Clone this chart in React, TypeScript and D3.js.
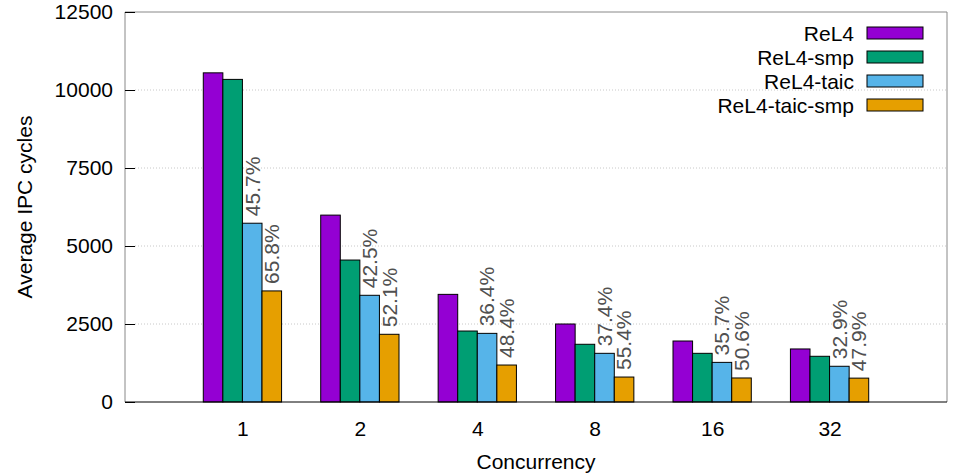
import { useRef, useEffect } from 'react';
import * as d3 from 'd3';

const categories = ['1', '2', '4', '8', '16', '32'];
const seriesNames = ['ReL4', 'ReL4-smp', 'ReL4-taic', 'ReL4-taic-smp'];
const rel4 = [10550, 5990, 3450, 2500, 1955, 1700];
const rel4Smp = [10340, 4550, 2275, 1850, 1560, 1465];
const rel4Taic = [5730, 3420, 2200, 1560, 1270, 1145];
const rel4TaicSmp = [3560, 2170, 1185, 800, 770, 765];
const taicLabels = ['45.7%', '42.5%', '36.4%', '37.4%', '35.7%', '32.9%'];
const taicSmpLabels = ['65.8%', '52.1%', '48.4%', '55.4%', '50.6%', '47.9%'];
const yTicks = [0, 2500, 5000, 7500, 10000, 12500];
const colors = ['#9400d3', '#009e73', '#56b4e9', '#e69f00'];

const WIDTH = 956;
const HEIGHT = 476;
const FONT = '"Liberation Sans", Arial, sans-serif';
const FS = '21px';

export default function App() {
  const svgRef = useRef<SVGSVGElement>(null);

  useEffect(() => {
    if (!svgRef.current) return;
    const svg = d3.select(svgRef.current);
    svg.selectAll('*').remove();

    const left = 125, right = 947, top = 12, bottom = 402;
    const x = d3.scaleLinear().domain([-1, 6]).range([left, right]);
    const y = d3.scaleLinear().domain([0, 12500]).range([bottom, top]);
    const barW = (x(1) - x(0)) / 6;

    const series = [rel4, rel4Smp, rel4Taic, rel4TaicSmp];

    // grid lines
    svg.append('g')
      .selectAll('line')
      .data(yTicks.filter(t => t > 0 && t < 12500))
      .enter()
      .append('line')
      .attr('x1', left + 10)
      .attr('x2', right)
      .attr('y1', d => y(d))
      .attr('y2', d => y(d))
      .attr('stroke', '#c8c8c8')
      .attr('stroke-width', 1)
      .attr('stroke-dasharray', '1,2');

    // border
    svg.append('path')
      .attr('d', `M${left},${bottom}V${top}H${right}V${bottom}`)
      .attr('fill', 'none')
      .attr('stroke', '#888')
      .attr('stroke-width', 1);

    // y axis
    const yAxis = svg.append('g')
      .attr('transform', `translate(${left},0)`)
      .call(d3.axisLeft(y)
        .tickValues(yTicks)
        .tickFormat(d3.format('d'))
        .tickSizeInner(-10)
        .tickSizeOuter(0)
        .tickPadding(12));
    yAxis.select('.domain').remove();
    yAxis.selectAll('.tick line').attr('stroke', '#000');
    yAxis.selectAll('text')
      .style('font-family', FONT)
      .style('font-size', FS)
      .style('fill', '#000');

    // x axis
    const xAxis = svg.append('g')
      .attr('transform', `translate(0,${bottom})`)
      .call(d3.axisBottom(x)
        .tickValues(d3.range(categories.length))
        .tickFormat(i => categories[i as number])
        .tickSize(0)
        .tickPadding(19));
    xAxis.select('.domain').remove();
    xAxis.selectAll('text')
      .style('font-family', FONT)
      .style('font-size', FS)
      .style('fill', '#000');

    // bars
    series.forEach((vals, s) => {
      svg.append('g')
        .selectAll('rect')
        .data(vals)
        .enter()
        .append('rect')
        .attr('x', (_, i) => x(i) + (s - 2) * barW)
        .attr('y', d => y(d))
        .attr('width', barW)
        .attr('height', d => y(0) - y(d))
        .attr('fill', colors[s])
        .attr('stroke', '#000')
        .attr('stroke-width', 1);
    });

    // bottom axis line on top of bars
    svg.append('line')
      .attr('x1', left).attr('x2', right)
      .attr('y1', bottom).attr('y2', bottom)
      .attr('stroke', '#000')
      .attr('stroke-width', 1);

    // percentage labels
    const labelSets = [
      { vals: rel4Taic, labels: taicLabels, s: 2 },
      { vals: rel4TaicSmp, labels: taicSmpLabels, s: 3 },
    ];
    labelSets.forEach(({ vals, labels, s }) => {
      svg.append('g')
        .selectAll('text')
        .data(vals)
        .enter()
        .append('text')
        .attr('transform', (d, i) => `translate(${x(i) + (s - 1.5) * barW},${y(d) - 7}) rotate(-90)`)
        .attr('dy', '0.35em')
        .attr('text-anchor', 'start')
        .style('font-family', FONT)
        .style('font-size', FS)
        .style('fill', '#505050')
        .text((_, i) => labels[i]);
    });

    // legend
    const legend = svg.append('g');
    seriesNames.forEach((name, i) => {
      const cy = 33 + i * 24;
      legend.append('text')
        .attr('x', 854)
        .attr('y', cy + 8)
        .attr('text-anchor', 'end')
        .style('font-family', FONT)
        .style('font-size', FS)
        .style('fill', '#000')
        .text(name);
      legend.append('rect')
        .attr('x', 867)
        .attr('y', cy - 6)
        .attr('width', 56)
        .attr('height', 12)
        .attr('fill', colors[i])
        .attr('stroke', '#000')
        .attr('stroke-width', 1);
    });

    // axis titles
    svg.append('text')
      .attr('transform', `translate(32,${(top + bottom) / 2}) rotate(-90)`)
      .attr('text-anchor', 'middle')
      .style('font-family', FONT)
      .style('font-size', FS)
      .style('fill', '#000')
      .text('Average IPC cycles');

    svg.append('text')
      .attr('x', (left + right) / 2)
      .attr('y', 469)
      .attr('text-anchor', 'middle')
      .style('font-family', FONT)
      .style('font-size', FS)
      .style('fill', '#000')
      .text('Concurrency');
  }, []);

  return (
    <svg
      ref={svgRef}
      width={WIDTH}
      height={HEIGHT}
      style={{ position: 'absolute', left: 0, top: 0, background: '#fff' }}
    />
  );
}
